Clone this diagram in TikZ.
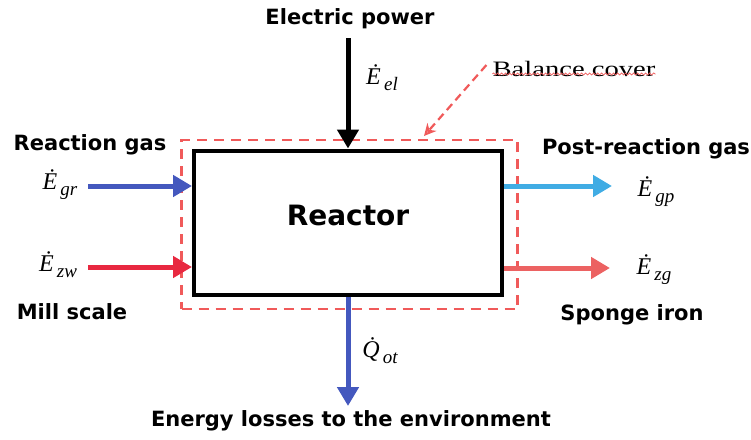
\documentclass[tikz,border=0pt]{standalone}
\usepackage{fontspec}
\setmainfont{DejaVu Sans}
\newfontfamily\serifl{Liberation Serif}
\usetikzlibrary{arrows.meta,decorations.pathmorphing}
\definecolor{cblue}{RGB}{68,88,190}
\definecolor{cred}{RGB}{232,40,64}
\definecolor{clblue}{RGB}{64,172,228}
\definecolor{csalmon}{RGB}{236,98,98}
\definecolor{cdash}{RGB}{240,90,90}
\newcommand{\flowsym}[2]{{\serifl\itshape\fontsize{24}{26}\selectfont\.{#1}\raisebox{-6pt}{\fontsize{19}{20}\selectfont\,#2}}}
\tikzset{
  flow/.style={line width=5pt,-{Triangle[length=19pt,width=21pt]}},
  lbl/.style={inner sep=0pt,font=\bfseries\fontsize{21}{24}\selectfont},
  sym/.style={inner sep=0pt},
}
\begin{document}
\begin{tikzpicture}[x=1pt,y=-1pt]
\useasboundingbox (0,0) rectangle (751,439);
% balance cover
\node[draw=cdash,line width=2.2pt,dash pattern=on 10pt off 7pt,minimum width=336pt,minimum height=169pt,inner sep=0pt] (cover) at (349.5,224.5) {};
% reactor
\node[draw=black,line width=4pt,minimum width=308pt,minimum height=144pt,inner sep=0pt] (reactor) at (348,222.5) {};
\node[inner sep=0pt,font=\bfseries\fontsize{28}{30}\selectfont] (rtext) at (348,215) {Reactor};
% texts
\node[lbl] (ep) at (350,19) {Electric power};
\node[lbl] (rg) at (90,145) {Reaction gas};
\node[lbl] (ms) at (72,312) {Mill scale};
\node[lbl] (prg) at (646,149) {Post-reaction gas};
\node[lbl] (si) at (632,315) {Sponge iron};
\node[lbl] (el) at (351,421) {Energy losses to the environment};
\node[inner sep=0pt,font=\serifl\fontsize{22}{24}\selectfont] (bc) at (574,69) {\scalebox{1.3}[1]{Balance cover}};
\draw[cdash,line width=0.7pt,decorate,decoration={snake,amplitude=1pt,segment length=4pt}] ([yshift=3pt]bc.south west) -- ([yshift=3pt]bc.south east);
% symbols
\node[sym] (Eel) at (382,78) {\flowsym{E}{el}};
\node[sym] (Egr) at (60,185) {\flowsym{E}{gr}};
\node[sym] (Ezw) at (58,265) {\flowsym{E}{zw}};
\node[sym] (Egp) at (656,192) {\flowsym{E}{gp}};
\node[sym] (Ezg) at (654,270) {\flowsym{E}{zg}};
\node[sym] (Qot) at (380,351) {\flowsym{Q}{ot}};
% coordinates
\coordinate (elS) at (348,38);
\coordinate (grS) at (88,186);
\coordinate (zwS) at (88,267);
\coordinate (gpE) at (612,186);
\coordinate (zgE) at (610,268);
\coordinate (otE) at (348,406);
% arrows
\draw[flow,black] (elS) -- (reactor.north -| elS);
\draw[flow,cblue] (grS) -- (reactor.west |- grS);
\draw[flow,cred] (zwS) -- (reactor.west |- zwS);
\draw[flow,clblue] (reactor.east |- gpE) -- (gpE);
\draw[flow,csalmon] (reactor.east |- zgE) -- (zgE);
\draw[flow,cblue] (reactor.south -| otE) -- (otE);
\draw[cdash,line width=2.2pt,dash pattern=on 8pt off 5pt,-{Stealth[length=12pt,width=12pt,open]}] ([xshift=-6pt,yshift=4pt]bc.west) -- (424,136);
\end{tikzpicture}
\end{document}
